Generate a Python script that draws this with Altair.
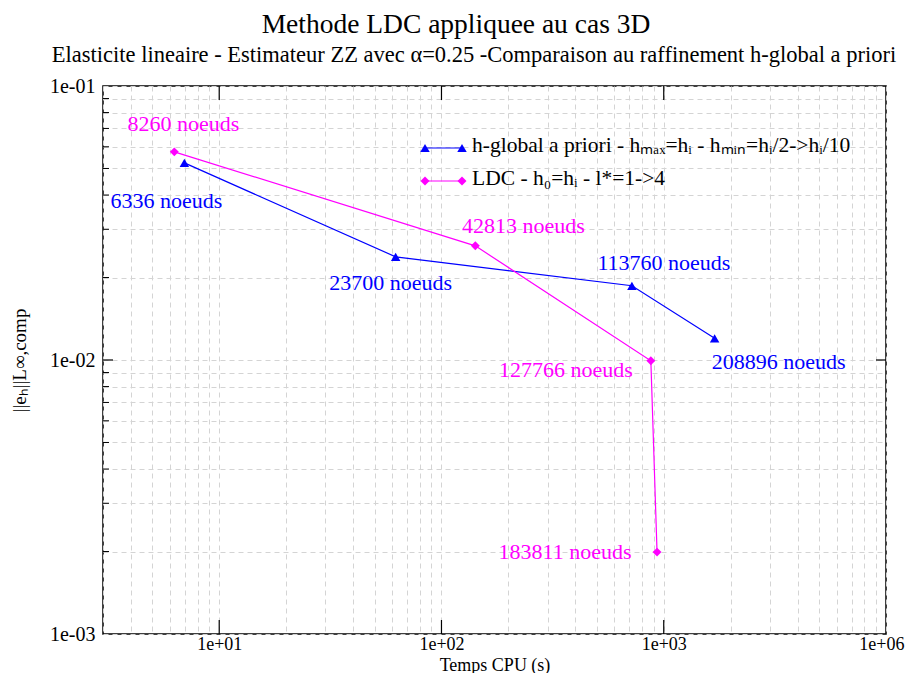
import math
import altair as alt
import pandas as pd

# ---- data ----
hg_name = "h-global a priori"
hg_cpu = [6.97, 62.2, 719, 1694]
hg_err = [0.0524, 0.0238, 0.01866, 0.0120]
hg_nodes = ["6336 noeuds", "23700 noeuds", "113760 noeuds", "208896 noeuds"]

ldc_name = "LDC"
ldc_cpu = [6.28, 142, 875, 933]
ldc_err = [0.0575, 0.0261, 0.00994, 0.00199]
ldc_nodes = ["8260 noeuds", "42813 noeuds", "127766 noeuds", "183811 noeuds"]

x_major = [10, 100, 1000, 10000]
x_major_labels = ["1e+01", "1e+02", "1e+03", "1e+06"]
y_major = [0.1, 0.01, 0.001]
y_major_labels = ["1e-01", "1e-02", "1e-03"]

legend_labels = [
    "h-global a priori - h\u2098\u2090\u2093=h\u1d62 - h\u2098\u1d62\u2099=h\u1d62/2->h\u1d62/10",
    "LDC - h\u2080=h\u1d62 - l*=1->4",
]

title_text = "Methode LDC appliquee au cas 3D"
subtitle_text = "Elasticite lineaire - Estimateur ZZ avec \u03b1=0.25 -Comparaison au raffinement h-global a priori"
x_title = "Temps CPU (s)"
y_title = "||e\u2095||L\u221e,comp"

# ---- style ----
FONT = "Liberation Serif"
BLUE = "#0000ff"
MAGENTA = "#ff00ff"
W, H = 783, 548
GRID = "#d4d4d4"

# label offsets (style)
hg_offsets = [(-18, 38), (-5, 26), (32, -23), (64, 24)]
ldc_offsets = [(9, -28), (48, -20), (-85, 9), (-92, 0)]

# minor grid values (log decades)
x_grid = [m * 10 ** e for e in range(0, 4) for m in range(1, 10) if 3 <= m * 10 ** e <= 10000] + [10000]
y_grid = [round(m * 10.0 ** e, 6) for e in (-3, -2) for m in range(1, 10)] + [0.1]
y_minor = [v for v in y_grid if v not in y_major]


def label_expr(vals, labels):
    parts = []
    for v, l in zip(vals, labels):
        e = round(math.log10(v))
        parts.append(f"abs(log(datum.value)/LN10 - ({e})) < 1e-6 ? '{l}'")
    return " : ".join(parts) + " : ''"


xscale = alt.Scale(type="log", domain=[3, 10000], nice=False)
yscale = alt.Scale(type="log", domain=[0.001, 0.1], nice=False)

xaxis = alt.Axis(values=x_grid, labelExpr=label_expr(x_major, x_major_labels),
                 grid=True, gridDash=[5, 4], gridColor=GRID, gridWidth=1,
                 ticks=False, domain=False, labelFont=FONT, labelFontSize=18,
                 labelColor="black", labelPadding=1, labelOverlap=False,
                 labelFlush=True, labelFlushOffset=18,
                 title=x_title, titleFont=FONT, titleFontSize=18, titleFontWeight="normal",
                 titleColor="black", titleBaseline="alphabetic", titleY=36)
yaxis = alt.Axis(values=y_grid, labelExpr=label_expr(y_major, y_major_labels),
                 grid=True, gridDash=[5, 4], gridColor=GRID, gridWidth=1,
                 ticks=False, domain=False, labelFont=FONT, labelFontSize=20,
                 labelColor="black", labelPadding=8, labelOverlap=False, labelFlush=False,
                 title=y_title, titleFont=FONT, titleFontSize=19, titleFontWeight="normal",
                 titleColor="black", titlePadding=20)

hg = pd.DataFrame({"cpu": hg_cpu, "err": hg_err, "label": hg_nodes, "i": range(4), "serie": hg_name})
ldc = pd.DataFrame({"cpu": ldc_cpu, "err": ldc_err, "label": ldc_nodes, "i": range(4), "serie": ldc_name})

grid_layer = alt.Chart(hg).mark_point(opacity=0).encode(
    x=alt.X("cpu:Q", scale=xscale, axis=xaxis),
    y=alt.Y("err:Q", scale=yscale, axis=yaxis),
)

line_hg = alt.Chart(hg).mark_line(color=BLUE, strokeWidth=1.2).encode(x="cpu:Q", y="err:Q", order="i:Q")
pts_hg = alt.Chart(hg).mark_point(shape="triangle-up", filled=True, color=BLUE, size=90, opacity=1).encode(x="cpu:Q", y="err:Q")
line_ldc = alt.Chart(ldc).mark_line(color=MAGENTA, strokeWidth=1.2).encode(x="cpu:Q", y="err:Q", order="i:Q")
pts_ldc = alt.Chart(ldc).mark_point(shape="diamond", filled=True, color=MAGENTA, size=80, opacity=1).encode(x="cpu:Q", y="err:Q")

labels = []
for df, offs, col in ((hg, hg_offsets, BLUE), (ldc, ldc_offsets, MAGENTA)):
    for k, (dx, dy) in enumerate(offs):
        labels.append(
            alt.Chart(df.iloc[[k]]).mark_text(font=FONT, fontSize=22, color=col, dx=dx, dy=dy,
                                              align="center", baseline="middle")
            .encode(x="cpu:Q", y="err:Q", text="label:N")
        )

# inward ticks
xt = pd.DataFrame({"v": x_major[:3]})
ticks_bottom = alt.Chart(xt).mark_rule(color="black", strokeWidth=1.2).encode(
    x="v:Q", y=alt.value(H), y2=alt.value(H - 14))
ticks_top = alt.Chart(xt).mark_rule(color="black", strokeWidth=1.2).encode(
    x="v:Q", y=alt.value(0), y2=alt.value(14))
yt = pd.DataFrame({"v": [0.01]})
ticks_left = alt.Chart(yt).mark_rule(color="black", strokeWidth=1.2).encode(
    y="v:Q", x=alt.value(0), x2=alt.value(10))
ticks_right = alt.Chart(yt).mark_rule(color="black", strokeWidth=1.2).encode(
    y="v:Q", x=alt.value(W), x2=alt.value(W - 10))
ym = pd.DataFrame({"v": y_minor})
ticks_left_minor = alt.Chart(ym).mark_rule(color="black", strokeWidth=1).encode(
    y="v:Q", x=alt.value(0), x2=alt.value(6))

# legend
leg = pd.DataFrame({"t": legend_labels})
legend_layers = []
for k, (shape, col, sz) in enumerate((("triangle-up", BLUE, 90), ("diamond", MAGENTA, 80))):
    yy = 62 + k * 33
    d = leg.iloc[[k]]
    legend_layers.append(alt.Chart(d).mark_rule(color=col, strokeWidth=1.2).encode(
        x=alt.value(322), x2=alt.value(359), y=alt.value(yy)))
    legend_layers.append(alt.Chart(d).mark_point(shape=shape, filled=True, color=col, size=sz, opacity=1).encode(
        x=alt.value(322), y=alt.value(yy)))
    legend_layers.append(alt.Chart(d).mark_point(shape=shape, filled=True, color=col, size=sz, opacity=1).encode(
        x=alt.value(359), y=alt.value(yy)))
    legend_layers.append(alt.Chart(d).mark_text(font=FONT, fontSize=21.5, color="black", align="left",
                                                baseline="middle").encode(
        x=alt.value(369), y=alt.value(yy - 2), text="t:N"))

titles = pd.DataFrame({"t": [title_text, subtitle_text]})
title_mark = alt.Chart(titles.iloc[[0]]).mark_text(
    font=FONT, fontSize=27.5, color="black", align="center", baseline="alphabetic").encode(
    x=alt.value(353), y=alt.value(-53), text="t:N")
subtitle_mark = alt.Chart(titles.iloc[[1]]).mark_text(
    font=FONT, fontSize=22.5, color="black", align="center", baseline="alphabetic").encode(
    x=alt.value(371), y=alt.value(-24), text="t:N")

chart = alt.layer(
    grid_layer, ticks_left_minor, ticks_bottom, ticks_top, ticks_left, ticks_right,
    line_hg, line_ldc, pts_hg, pts_ldc, *labels, *legend_layers, title_mark, subtitle_mark
).properties(
    width=W, height=H,
    padding={"left": 95, "top": 78, "right": 20, "bottom": 39},
    autosize=alt.AutoSizeParams(type="none"),
).configure_view(stroke="black", strokeWidth=1.5)

chart.save("out.html", embed_options={"renderer": "svg", "actions": False})
